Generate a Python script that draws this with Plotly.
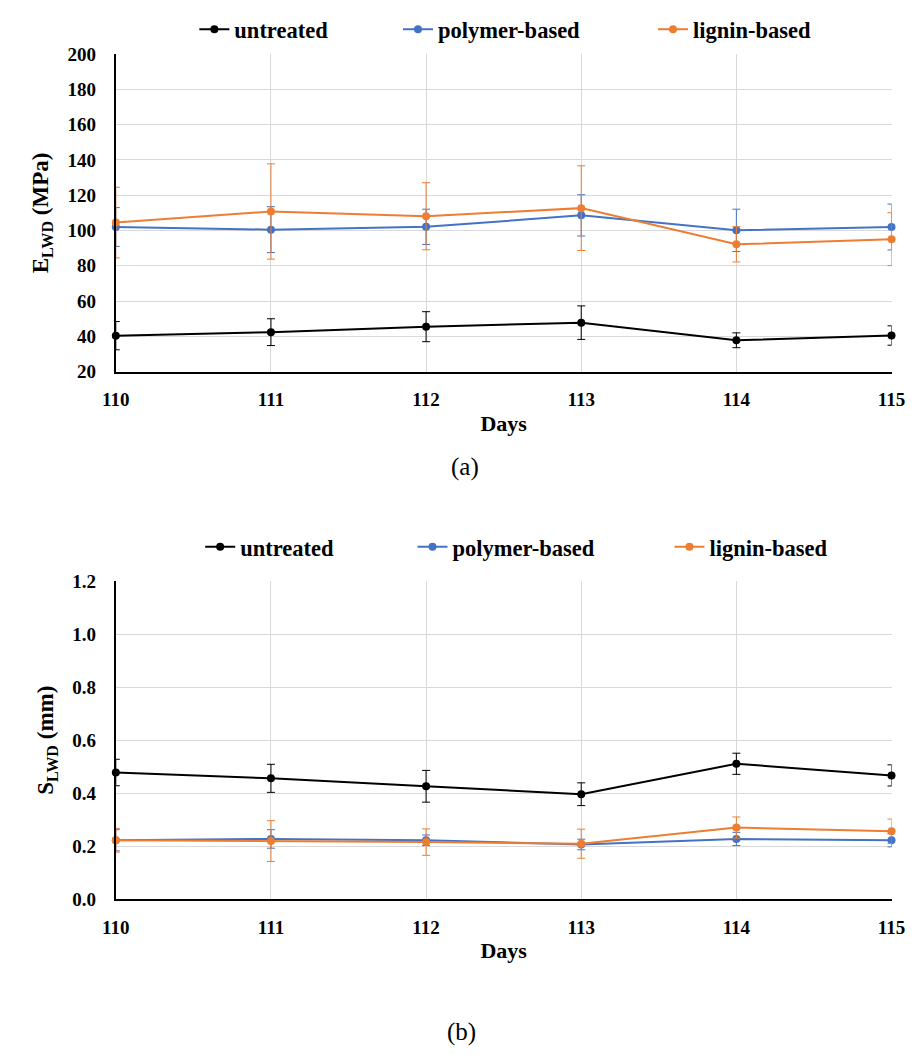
import plotly.graph_objects as go

days = [110, 111, 112, 113, 114, 115]
series_names = ["untreated", "polymer-based", "lignin-based"]
colors = ["#000000", "#4472C4", "#ED7D31"]

E_untreated = [40.4, 42.4, 45.5, 47.8, 37.8, 40.5]
E_untreated_err = [8.0, 7.6, 8.5, 9.5, 4.2, 5.5]
E_polymer = [102.0, 100.5, 102.1, 108.6, 100.1, 102.0]
E_polymer_err = [11.0, 13.0, 10.0, 11.7, 12.0, 13.0]
E_lignin = [104.5, 110.8, 108.1, 112.7, 92.2, 95.1]
E_lignin_err = [20.0, 27.0, 19.0, 24.0, 10.0, 15.0]

S_untreated = [0.478, 0.456, 0.426, 0.396, 0.511, 0.467]
S_untreated_err = [0.05, 0.053, 0.06, 0.043, 0.04, 0.04]
S_polymer = [0.222, 0.227, 0.222, 0.206, 0.227, 0.222]
S_polymer_err = [0.04, 0.035, 0.02, 0.02, 0.025, 0.025]
S_lignin = [0.222, 0.219, 0.215, 0.209, 0.270, 0.256]
S_lignin_err = [0.045, 0.077, 0.05, 0.055, 0.04, 0.046]

W, H = 922, 1059
FONT = "Liberation Serif"

fig = go.Figure()

top_vals = [(E_untreated, E_untreated_err), (E_polymer, E_polymer_err), (E_lignin, E_lignin_err)]
bot_vals = [(S_untreated, S_untreated_err), (S_polymer, S_polymer_err), (S_lignin, S_lignin_err)]

top_leg = ["legend", "legend2", "legend3"]
bot_leg = ["legend4", "legend5", "legend6"]

for i, (v, e) in enumerate(top_vals):
    fig.add_trace(go.Scatter(
        x=days, y=v, name=series_names[i], mode="lines+markers",
        line=dict(color=colors[i], width=2),
        marker=dict(color=colors[i], size=8),
        error_y=dict(type="data", array=e, visible=True, color=colors[i], thickness=1, width=4),
        cliponaxis=False, xaxis="x", yaxis="y", legend=top_leg[i]))

for i, (v, e) in enumerate(bot_vals):
    fig.add_trace(go.Scatter(
        x=days, y=v, name=series_names[i], mode="lines+markers",
        line=dict(color=colors[i], width=2),
        marker=dict(color=colors[i], size=8),
        error_y=dict(type="data", array=e, visible=True, color=colors[i], thickness=1, width=4),
        cliponaxis=False, xaxis="x2", yaxis="y2", legend=bot_leg[i]))

def px_x(p):
    return p / W

def px_y(p):
    return 1 - p / H

xdom = [px_x(105), px_x(905)]
tickfont = dict(family=FONT, size=19, color="#000000", weight="bold")
titlefont = dict(family=FONT, size=22, color="#000000", weight="bold")

xaxis_common = dict(
    range=[110, 115], tickmode="array", tickvals=days, ticktext=[str(d) for d in days],
    showgrid=True, gridcolor="#D9D9D9", gridwidth=1, zeroline=False,
    showline=True, linecolor="#000000", linewidth=2, ticks="",
    tickfont=tickfont, ticklabelstandoff=10,
    title=dict(text="Days", font=titlefont, standoff=6),
    domain=xdom)

fig.update_layout(
    width=W, height=H, margin=dict(l=0, r=0, t=0, b=0),
    plot_bgcolor="#FFFFFF", paper_bgcolor="#FFFFFF",
    font=dict(family=FONT, color="#000000"),
    xaxis=dict(**xaxis_common, anchor="y"),
    xaxis2=dict(**xaxis_common, anchor="y2"),
    yaxis=dict(
        range=[20, 200], dtick=20, tick0=20, domain=[px_y(369), px_y(45)],
        showgrid=True, gridcolor="#D9D9D9", gridwidth=1, zeroline=False,
        showline=True, linecolor="#000000", linewidth=2, ticks="",
        tickfont=tickfont, ticklabelstandoff=14,
        title=dict(text="E<sub>LWD</sub> (MPa)", font=dict(family=FONT, size=23, color="#000000", weight="bold"), standoff=12),
        anchor="x"),
    yaxis2=dict(
        range=[0, 1.2], dtick=0.2, tick0=0, tickformat=".1f", domain=[px_y(907), px_y(583)],
        showgrid=True, gridcolor="#D9D9D9", gridwidth=1, zeroline=False,
        showline=True, linecolor="#000000", linewidth=2, ticks="",
        tickfont=tickfont, ticklabelstandoff=14,
        title=dict(text="S<sub>LWD</sub> (mm)", font=dict(family=FONT, size=23, color="#000000", weight="bold"), standoff=12),
        anchor="x2"),
    showlegend=True,
)

legfont = dict(family=FONT, size=22.5, color="#000000", weight="bold")
top_text_x = [226, 436, 699]
bot_text_x = [232, 451, 716]
for name, tx in zip(top_leg, top_text_x):
    fig.update_layout({name: dict(x=px_x(tx - 40), y=px_y(20), xanchor="left", yanchor="middle",
                                  orientation="h", font=legfont, bgcolor="rgba(0,0,0,0)", borderwidth=0)})
for name, tx in zip(bot_leg, bot_text_x):
    fig.update_layout({name: dict(x=px_x(tx - 40), y=px_y(548), xanchor="left", yanchor="middle",
                                  orientation="h", font=legfont, bgcolor="rgba(0,0,0,0)", borderwidth=0)})

fig.add_annotation(text="(a)", x=px_x(465), y=px_y(466), xref="paper", yref="paper",
                   showarrow=False, font=dict(family=FONT, size=25, color="#000000"),
                   xanchor="center", yanchor="middle")
fig.add_annotation(text="(b)", x=px_x(462), y=px_y(1043), xref="paper", yref="paper",
                   showarrow=False, font=dict(family=FONT, size=25, color="#000000"),
                   xanchor="center", yanchor="middle")

fig.write_html("out.html")
